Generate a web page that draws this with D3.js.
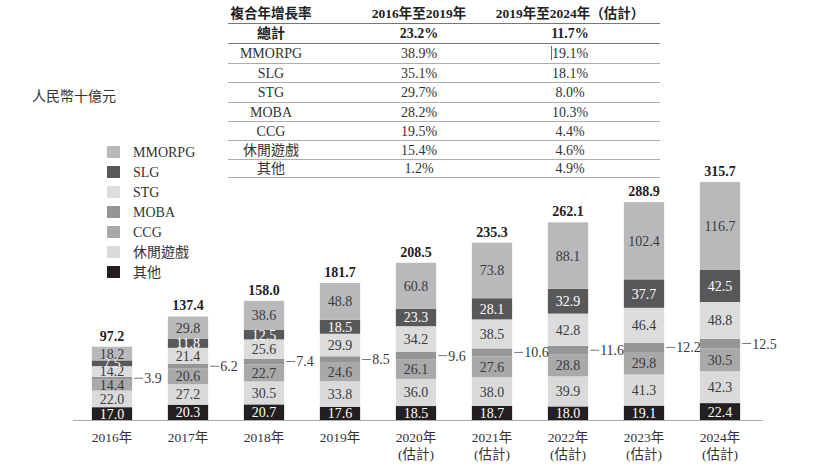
<!DOCTYPE html>
<html>
<head>
<meta charset="utf-8">
<script src="https://cdn.jsdelivr.net/npm/d3@7"></script>
<style>
  body { margin: 0; background: #fff; }
  svg text { font-family: "Liberation Serif", "Noto Sans CJK TC", serif; }
</style>
</head>
<body>
<div id="chart"></div>
<script>
// data
var years = ["2016年", "2017年", "2018年", "2019年", "2020年", "2021年", "2022年", "2023年", "2024年"];
var estimated = [false, false, false, false, true, true, true, true, true];
// stack order bottom -> top
var segments = ["其他", "休閒遊戲", "CCG", "MOBA", "STG", "SLG", "MMORPG"];
var other = [17.0, 20.3, 20.7, 17.6, 18.5, 18.7, 18.0, 19.1, 22.4];
var casual = [22.0, 27.2, 30.5, 33.8, 36.0, 38.0, 39.9, 41.3, 42.3];
var ccg = [14.4, 20.6, 22.7, 24.6, 26.1, 27.6, 28.8, 29.8, 30.5];
var moba = [3.9, 6.2, 7.4, 8.5, 9.6, 10.6, 11.6, 12.2, 12.5];
var stg = [14.2, 21.4, 25.6, 29.9, 34.2, 38.5, 42.8, 46.4, 48.8];
var slg = [7.5, 11.8, 12.5, 18.5, 23.3, 28.1, 32.9, 37.7, 42.5];
var mmorpg = [18.2, 29.8, 38.6, 48.8, 60.8, 73.8, 88.1, 102.4, 116.7];
var totals = [97.2, 137.4, 158.0, 181.7, 208.5, 235.3, 262.1, 288.9, 315.7];

// CAGR table
var tableHeader = ["複合年增長率", "2016年至2019年", "2019年至2024年（估計）"];
var tableRows = ["總計", "MMORPG", "SLG", "STG", "MOBA", "CCG", "休閒遊戲", "其他"];
var cagr1619 = ["23.2%", "38.9%", "35.1%", "29.7%", "28.2%", "19.5%", "15.4%", "1.2%"];
var cagr1924 = ["11.7%", "19.1%", "18.1%", "8.0%", "10.3%", "4.4%", "4.6%", "4.9%"];

var legendOrder = ["MMORPG", "SLG", "STG", "MOBA", "CCG", "休閒遊戲", "其他"];

var colors = {
    "MMORPG": "#b9b9bb",
    "SLG": "#58585a",
    "STG": "#dcdcdd",
    "MOBA": "#959596",
    "CCG": "#a9a9aa",
    "休閒遊戲": "#dadadb",
    "其他": "#231f20"
};
var whiteText = { "SLG": true, "其他": true };

var svgWidth = 820;
var svgHeight = 469;

var svg = d3.select("#chart")
    .append("svg")
    .attr("width", svgWidth)
    .attr("height", svgHeight);

var table = years.map(function(y, i) {
    return {
        year: y, i: i,
        "其他": other[i], "休閒遊戲": casual[i], "CCG": ccg[i], "MOBA": moba[i],
        "STG": stg[i], "SLG": slg[i], "MMORPG": mmorpg[i]
    };
});
var stacked = d3.stack().keys(segments)(table);

var xScale = d3.scaleBand()
    .domain(years)
    .range([74, 758])
    .paddingInner(0.47)
    .paddingOuter(0.235);

var yScale = d3.scaleLinear()
    .domain([0, 320])
    .range([420, 178.7]);

// bars
var layers = svg.append("g")
    .selectAll("g")
    .data(stacked)
    .enter()
    .append("g")
    .attr("fill", d => colors[d.key]);

layers.selectAll("rect")
    .data(d => d)
    .enter()
    .append("rect")
    .attr("x", d => xScale(d.data.year))
    .attr("y", d => yScale(d[1]))
    .attr("width", xScale.bandwidth())
    .attr("height", d => yScale(d[0]) - yScale(d[1]));

// value labels
stacked.forEach(function(layer) {
    var key = layer.key;
    var g = svg.append("g");
    if (key === "MOBA") {
        layer.forEach(function(d) {
            var xr = xScale(d.data.year) + xScale.bandwidth();
            var ym = (yScale(d[0]) + yScale(d[1])) / 2;
            g.append("line")
                .attr("x1", xr + 2).attr("x2", xr + 11)
                .attr("y1", ym).attr("y2", ym)
                .attr("stroke", "#555").attr("stroke-width", 0.8);
            g.append("text")
                .attr("x", xr + 12)
                .attr("y", ym + 5)
                .attr("font-size", "14px")
                .attr("fill", "#3a3a3a")
                .text(d.data[key].toFixed(1));
        });
    } else {
        g.selectAll("text")
            .data(layer)
            .enter()
            .append("text")
            .attr("x", d => xScale(d.data.year) + xScale.bandwidth() / 2)
            .attr("y", d => (yScale(d[0]) + yScale(d[1])) / 2 + 5)
            .attr("text-anchor", "middle")
            .attr("font-size", "14px")
            .attr("fill", whiteText[key] ? "#fff" : "#3a3a3a")
            .text(d => d.data[key].toFixed(1));
    }
});

// totals
svg.append("g")
    .selectAll("text")
    .data(years)
    .enter()
    .append("text")
    .attr("x", d => xScale(d) + xScale.bandwidth() / 2)
    .attr("y", (d, i) => yScale(totals[i]) - 6)
    .attr("text-anchor", "middle")
    .attr("font-size", "14px")
    .attr("font-weight", "bold")
    .attr("fill", "#222")
    .text((d, i) => totals[i].toFixed(1));

// axis
var bottomAxis = d3.axisBottom(xScale).tickSize(0).tickPadding(0);
var xAxis = svg.append("g")
    .attr("transform", "translate(0, 420)")
    .call(bottomAxis);
xAxis.select(".domain").remove();
xAxis.selectAll("text").remove();
svg.append("line")
    .attr("x1", 73).attr("x2", 763)
    .attr("y1", 420.5).attr("y2", 420.5)
    .attr("stroke", "#aaa").attr("stroke-width", 1);

xAxis.selectAll(".tick").each(function(d, i) {
    var t = d3.select(this);
    t.append("text")
        .attr("y", 22)
        .attr("text-anchor", "middle")
        .attr("font-size", "13.5px")
        .attr("fill", "#333")
        .text(d);
    if (estimated[i]) {
        t.append("text")
            .attr("y", 39)
            .attr("text-anchor", "middle")
            .attr("font-size", "13.5px")
            .attr("fill", "#333")
            .text("(估計)");
    }
});

// unit label
svg.append("text")
    .attr("x", 32)
    .attr("y", 101)
    .attr("font-size", "14px")
    .attr("fill", "#333")
    .text("人民幣十億元");

// legend
var legend = svg.append("g")
    .selectAll("g")
    .data(legendOrder)
    .enter()
    .append("g")
    .attr("transform", (d, i) => `translate(107, ${146 + i * 20})`);
legend.append("rect")
    .attr("width", 13).attr("height", 12)
    .attr("fill", d => colors[d]);
legend.append("text")
    .attr("x", 26)
    .attr("y", 11)
    .attr("font-size", "14px")
    .attr("fill", "#333")
    .text(d => d);

// CAGR table
var tableLeft = 228, tableRight = 660;
var colCenters = [271, 419, 570];
var lineYs = [23, 43, 63, 82, 102, 121, 140, 159, 177];
var tg = svg.append("g");

tg.selectAll("line.row")
    .data(lineYs)
    .enter()
    .append("line")
    .attr("x1", tableLeft).attr("x2", tableRight)
    .attr("y1", d => d + 0.5).attr("y2", d => d + 0.5)
    .attr("stroke", (d, i) => i < 2 ? "#777" : "#999")
    .attr("stroke-width", (d, i) => i < 2 ? 1.2 : 0.8);

tg.selectAll("text.head")
    .data(tableHeader)
    .enter()
    .append("text")
    .attr("x", (d, i) => colCenters[i])
    .attr("y", 18)
    .attr("text-anchor", "middle")
    .attr("font-size", "13.5px")
    .attr("font-weight", "bold")
    .attr("fill", "#222")
    .text(d => d);

tableRows.forEach(function(r, i) {
    var yTop = lineYs[i], yBot = lineYs[i + 1];
    var yb = (yTop + yBot) / 2 + 5;
    var vals = [r, cagr1619[i], cagr1924[i]];
    vals.forEach(function(v, j) {
        tg.append("text")
            .attr("x", colCenters[j])
            .attr("y", yb)
            .attr("text-anchor", "middle")
            .attr("font-size", "14px")
            .attr("font-weight", i === 0 ? "bold" : "normal")
            .attr("fill", i === 0 ? "#222" : "#333")
            .text(v);
    });
});
// stray mark in the MMORPG row
tg.append("line")
    .attr("x1", 551.5).attr("x2", 551.5)
    .attr("y1", 46).attr("y2", 60)
    .attr("stroke", "#444").attr("stroke-width", 0.8);
</script>
</body>
</html>
